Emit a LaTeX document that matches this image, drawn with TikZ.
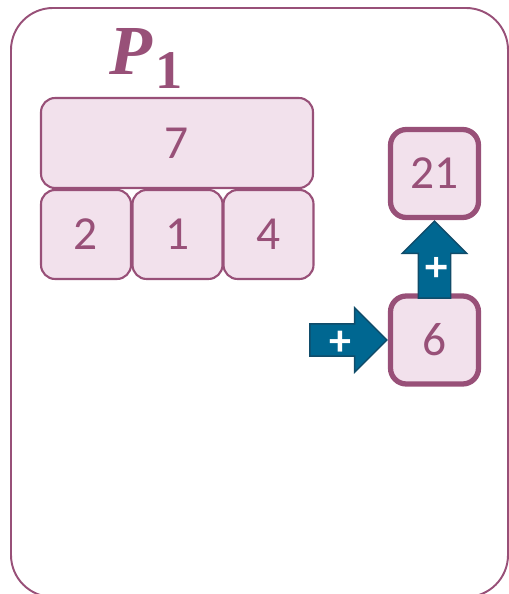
\documentclass[tikz,border=0pt]{standalone}
\usepackage{amsmath}
\usepackage{fontspec}
\setmainfont{Carlito}
\newfontfamily\titlefont{Liberation Serif}
\usepackage{tikz}
\usetikzlibrary{shapes.arrows}
\definecolor{mauve}{RGB}{152,80,120}
\definecolor{pinkfill}{RGB}{242,225,236}
\definecolor{petrol}{RGB}{0,103,145}
\definecolor{petroldark}{RGB}{16,76,106}
\tikzset{
  cell/.style={draw=mauve, fill=pinkfill, line width=1.2pt, rounded corners=8pt,
    text=mauve, font=\fontsize{27}{30}\selectfont, inner sep=0pt},
  sumcell/.style={cell, line width=3pt, rounded corners=9pt},
  plusarrow/.style={single arrow, draw=petroldark, fill=petrol, line width=0.8pt,
    text=white, font=\bfseries\fontsize{25}{25}\selectfont, inner xsep=2pt, inner ysep=0pt,
    text height=0.62cm, text depth=0pt, single arrow head extend=0.32cm,
    single arrow tip angle=90, minimum height=1.54cm}
}
\newcommand{\pnum}[1]{{\titlefont\bfseries\fontsize{40}{40}\selectfont\itshape P}%
  \kern2pt\raisebox{-7.5pt}{\titlefont\bfseries\fontsize{31}{31}\selectfont #1}}

\begin{document}
\begin{tikzpicture}[x=0.02cm, y=-0.02cm]
\useasboundingbox (0,0) rectangle (509,594);
\begin{scope}
\clip (0,0) rectangle (509,594);
\draw[draw=mauve, line width=1.1pt, rounded corners=0.84cm] (11,8) rectangle (508,597);
\end{scope}

\node[text=mauve, inner sep=0pt, anchor=base west] (title) at (109,75) {\pnum{1}};

\node[cell, minimum width=5.44cm, minimum height=1.8cm] (seven) at (177,143) {7};
\node[cell, minimum width=1.8cm, minimum height=1.78cm] (two) at (86,234.5) {2};
\node[cell, minimum width=1.8cm, minimum height=1.78cm] (one) at (177.5,234.5) {1};
\node[cell, minimum width=1.8cm, minimum height=1.78cm] (four) at (268.5,234.5) {4};

\node[sumcell, minimum width=1.76cm, minimum height=1.76cm] (total) at (434.5,173.5) {21};
\node[sumcell, minimum width=1.76cm, minimum height=1.76cm] (six) at (434.5,340) {6};

\node[plusarrow, rotate=90, anchor=tip] (up) at (total.south) {+};
\node[plusarrow, anchor=tip] (right) at (six.west) {+};
\end{tikzpicture}
\end{document}
